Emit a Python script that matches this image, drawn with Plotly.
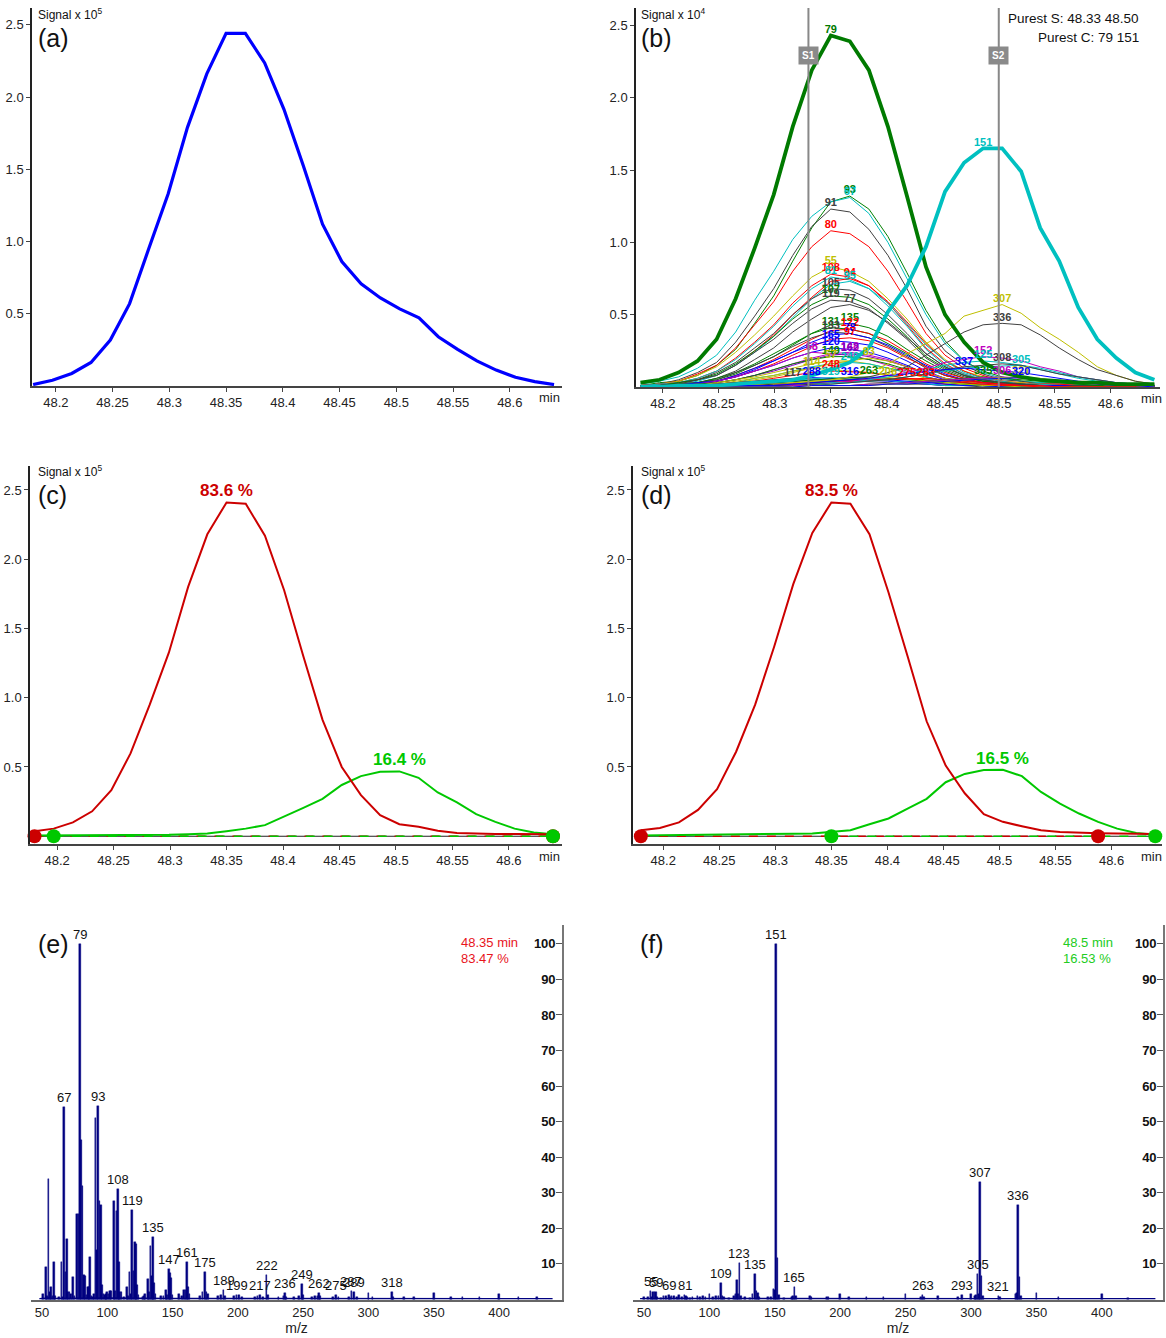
import numpy as np
import plotly.graph_objects as go

W, H = 1166, 1338
FONT = "Liberation Sans, Arial, sans-serif"

# ---------------- data ----------------
T = [48.180, 48.197, 48.214, 48.231, 48.248, 48.265, 48.282, 48.299, 48.316, 48.333,
     48.350, 48.367, 48.384, 48.401, 48.418, 48.435, 48.452, 48.469, 48.486, 48.503,
     48.520, 48.537, 48.554, 48.571, 48.588, 48.605, 48.622, 48.639]

tic = [0.01, 0.04, 0.087, 0.163, 0.318, 0.57, 0.953, 1.33, 1.79, 2.16,
       2.44, 2.44, 2.236, 1.915, 1.526, 1.12, 0.861, 0.708, 0.609, 0.534,
       0.472, 0.341, 0.254, 0.174, 0.11, 0.06, 0.03, 0.01]

# panel (b): extracted ion chromatograms (x 10^4)
ion_79 = [0.03, 0.05, 0.10, 0.18, 0.33, 0.61, 0.96, 1.33, 1.80, 2.19,
          2.43, 2.39, 2.19, 1.80, 1.32, 0.83, 0.50, 0.31, 0.17, 0.10,
          0.07, 0.05, 0.04, 0.03, 0.03, 0.02, 0.02, 0.02]
ion_151 = [0.00, 0.00, 0.01, 0.01, 0.01, 0.02, 0.03, 0.04, 0.05, 0.08,
           0.12, 0.17, 0.27, 0.52, 0.70, 0.97, 1.35, 1.55, 1.65, 1.65,
           1.49, 1.10, 0.87, 0.55, 0.33, 0.20, 0.10, 0.05]
ion_93 = [0.01, 0.03, 0.04, 0.08, 0.15, 0.26, 0.44, 0.63, 0.87, 1.10,
          1.28, 1.32, 1.23, 1.04, 0.79, 0.53, 0.32, 0.18, 0.11, 0.07,
          0.04, 0.03, 0.03, 0.02, 0.01, 0.01, 0.01, 0.01]
ion_67 = [0.02, 0.04, 0.07, 0.13, 0.22, 0.38, 0.60, 0.80, 1.02, 1.18,
          1.28, 1.31, 1.20, 1.00, 0.75, 0.50, 0.30, 0.18, 0.10, 0.06,
          0.04, 0.03, 0.02, 0.02, 0.01, 0.01, 0.01, 0.01]
ion_91 = [0.01, 0.02, 0.05, 0.10, 0.17, 0.31, 0.49, 0.68, 0.91, 1.11,
          1.23, 1.21, 1.09, 0.91, 0.68, 0.42, 0.25, 0.15, 0.09, 0.05,
          0.04, 0.02, 0.02, 0.01, 0.01, 0.01, 0.01, 0.01]
ion_80 = [0.01, 0.02, 0.04, 0.09, 0.15, 0.27, 0.43, 0.59, 0.80, 0.97,
          1.08, 1.06, 0.97, 0.80, 0.59, 0.37, 0.22, 0.13, 0.08, 0.04,
          0.03, 0.02, 0.02, 0.01, 0.01, 0.01, 0.01, 0.01]
ion_55 = [0.01, 0.02, 0.04, 0.08, 0.14, 0.24, 0.36, 0.49, 0.63, 0.76,
          0.83, 0.80, 0.73, 0.61, 0.47, 0.31, 0.19, 0.11, 0.07, 0.04,
          0.03, 0.02, 0.02, 0.01, 0.01, 0.01, 0.01, 0.01]
ion_108 = [0.01, 0.02, 0.03, 0.06, 0.11, 0.20, 0.31, 0.43, 0.58, 0.70,
           0.78, 0.76, 0.70, 0.58, 0.43, 0.27, 0.16, 0.09, 0.05, 0.03,
           0.02, 0.02, 0.02, 0.01, 0.01, 0.01, 0.01, 0.01]
ion_81 = [0.01, 0.02, 0.03, 0.06, 0.11, 0.19, 0.30, 0.42, 0.56, 0.68,
          0.76, 0.74, 0.68, 0.56, 0.42, 0.26, 0.15, 0.09, 0.05, 0.03,
          0.02, 0.02, 0.02, 0.01, 0.01, 0.01, 0.01, 0.01]
ion_94 = [0.01, 0.02, 0.02, 0.05, 0.08, 0.15, 0.25, 0.36, 0.50, 0.62,
          0.73, 0.75, 0.70, 0.59, 0.45, 0.30, 0.18, 0.11, 0.06, 0.04,
          0.02, 0.02, 0.02, 0.01, 0.01, 0.01, 0.01, 0.01]
ion_95 = [0.01, 0.02, 0.02, 0.04, 0.08, 0.15, 0.24, 0.35, 0.48, 0.61,
          0.71, 0.73, 0.68, 0.58, 0.44, 0.29, 0.18, 0.10, 0.06, 0.04,
          0.02, 0.02, 0.01, 0.01, 0.01, 0.01, 0.01, 0.01]
ion_105 = [0.01, 0.01, 0.03, 0.05, 0.10, 0.17, 0.27, 0.37, 0.50, 0.61,
           0.68, 0.67, 0.61, 0.50, 0.37, 0.23, 0.14, 0.08, 0.05, 0.03,
           0.02, 0.01, 0.01, 0.01, 0.01, 0.01, 0.01, 0.01]
ion_107 = [0.01, 0.01, 0.03, 0.05, 0.09, 0.16, 0.25, 0.35, 0.47, 0.57,
           0.63, 0.62, 0.57, 0.47, 0.35, 0.21, 0.13, 0.08, 0.04, 0.03,
           0.02, 0.01, 0.01, 0.01, 0.01, 0.01, 0.01, 0.01]
ion_119 = [0.01, 0.01, 0.02, 0.05, 0.08, 0.15, 0.24, 0.33, 0.44, 0.54,
           0.60, 0.59, 0.54, 0.44, 0.33, 0.20, 0.12, 0.07, 0.04, 0.02,
           0.02, 0.01, 0.01, 0.01, 0.01, 0.01, 0.01, 0.01]
ion_77 = [0.01, 0.01, 0.02, 0.03, 0.06, 0.11, 0.19, 0.27, 0.38, 0.47,
          0.55, 0.57, 0.53, 0.45, 0.34, 0.23, 0.14, 0.08, 0.05, 0.03,
          0.02, 0.01, 0.01, 0.01, 0.01, 0.01, 0.01, 0.01]
ion_135 = [0.00, 0.01, 0.01, 0.03, 0.05, 0.09, 0.15, 0.21, 0.29, 0.37,
           0.43, 0.44, 0.41, 0.35, 0.26, 0.18, 0.11, 0.06, 0.04, 0.02,
           0.01, 0.01, 0.01, 0.00, 0.00, 0.00, 0.00, 0.00]
ion_131 = [0.00, 0.01, 0.02, 0.03, 0.06, 0.10, 0.16, 0.23, 0.30, 0.37,
           0.41, 0.40, 0.37, 0.30, 0.23, 0.14, 0.08, 0.05, 0.03, 0.02,
           0.01, 0.01, 0.01, 0.00, 0.00, 0.00, 0.00, 0.00]
ion_122 = [0.00, 0.01, 0.01, 0.02, 0.04, 0.08, 0.13, 0.19, 0.26, 0.33,
           0.39, 0.40, 0.37, 0.32, 0.24, 0.16, 0.10, 0.06, 0.03, 0.02,
           0.01, 0.01, 0.01, 0.00, 0.00, 0.00, 0.00, 0.00]
ion_133 = [0.00, 0.01, 0.02, 0.03, 0.05, 0.10, 0.15, 0.21, 0.28, 0.34,
           0.38, 0.37, 0.34, 0.28, 0.21, 0.13, 0.08, 0.05, 0.03, 0.02,
           0.01, 0.01, 0.01, 0.00, 0.00, 0.00, 0.00, 0.00]
ion_78 = [0.00, 0.01, 0.01, 0.02, 0.04, 0.07, 0.12, 0.18, 0.24, 0.31,
          0.36, 0.37, 0.34, 0.29, 0.22, 0.15, 0.09, 0.05, 0.03, 0.02,
          0.01, 0.01, 0.01, 0.00, 0.00, 0.00, 0.00, 0.00]
ion_97 = [0.00, 0.01, 0.01, 0.02, 0.04, 0.07, 0.11, 0.16, 0.22, 0.28,
          0.33, 0.34, 0.32, 0.27, 0.20, 0.14, 0.08, 0.05, 0.03, 0.02,
          0.01, 0.01, 0.01, 0.00, 0.00, 0.00, 0.00, 0.00]
ion_165 = [0.00, 0.01, 0.01, 0.03, 0.04, 0.08, 0.13, 0.18, 0.24, 0.29,
           0.32, 0.31, 0.29, 0.24, 0.18, 0.11, 0.06, 0.04, 0.02, 0.01,
           0.01, 0.01, 0.01, 0.00, 0.00, 0.00, 0.00, 0.00]
ion_120 = [0.00, 0.01, 0.01, 0.02, 0.04, 0.07, 0.11, 0.15, 0.20, 0.24,
           0.27, 0.26, 0.24, 0.20, 0.15, 0.09, 0.05, 0.03, 0.02, 0.01,
           0.01, 0.01, 0.01, 0.00, 0.00, 0.00, 0.00, 0.00]
ion_68 = [0.00, 0.01, 0.01, 0.02, 0.04, 0.07, 0.11, 0.15, 0.20, 0.24,
          0.23, 0.22, 0.19, 0.15, 0.11, 0.07, 0.04, 0.03, 0.02, 0.01,
          0.01, 0.01, 0.00, 0.00, 0.00, 0.00, 0.00, 0.00]
ion_148 = [0.00, 0.00, 0.01, 0.01, 0.03, 0.05, 0.08, 0.12, 0.16, 0.20,
           0.23, 0.24, 0.22, 0.19, 0.14, 0.10, 0.06, 0.03, 0.02, 0.01,
           0.01, 0.00, 0.00, 0.00, 0.00, 0.00, 0.00, 0.00]
ion_162 = [0.00, 0.00, 0.01, 0.01, 0.03, 0.05, 0.08, 0.11, 0.15, 0.19,
           0.22, 0.23, 0.21, 0.18, 0.14, 0.09, 0.06, 0.03, 0.02, 0.01,
           0.01, 0.00, 0.00, 0.00, 0.00, 0.00, 0.00, 0.00]
ion_149 = [0.00, 0.00, 0.01, 0.02, 0.03, 0.05, 0.08, 0.12, 0.16, 0.19,
           0.21, 0.21, 0.19, 0.16, 0.12, 0.07, 0.04, 0.03, 0.01, 0.01,
           0.01, 0.00, 0.00, 0.00, 0.00, 0.00, 0.00, 0.00]
ion_57 = [0.00, 0.00, 0.01, 0.01, 0.03, 0.05, 0.07, 0.10, 0.13, 0.16,
          0.18, 0.18, 0.16, 0.13, 0.10, 0.06, 0.04, 0.02, 0.01, 0.01,
          0.01, 0.00, 0.00, 0.00, 0.00, 0.00, 0.00, 0.00]
ion_249 = [0.00, 0.00, 0.01, 0.01, 0.02, 0.03, 0.06, 0.08, 0.11, 0.14,
           0.16, 0.17, 0.16, 0.13, 0.10, 0.07, 0.04, 0.02, 0.01, 0.01,
           0.01, 0.00, 0.00, 0.00, 0.00, 0.00, 0.00, 0.00]
ion_83 = [0.00, 0.00, 0.01, 0.01, 0.02, 0.03, 0.05, 0.07, 0.10, 0.13,
          0.16, 0.18, 0.20, 0.18, 0.14, 0.10, 0.06, 0.04, 0.02, 0.01,
          0.01, 0.00, 0.00, 0.00, 0.00, 0.00, 0.00, 0.00]
ion_114 = [0.00, 0.00, 0.01, 0.01, 0.02, 0.04, 0.06, 0.08, 0.11, 0.13,
           0.12, 0.11, 0.10, 0.08, 0.06, 0.04, 0.02, 0.01, 0.01, 0.00,
           0.00, 0.00, 0.00, 0.00, 0.00, 0.00, 0.00, 0.00]
ion_248 = [0.00, 0.00, 0.00, 0.01, 0.02, 0.03, 0.04, 0.06, 0.08, 0.10,
           0.11, 0.105, 0.10, 0.08, 0.06, 0.04, 0.02, 0.01, 0.01, 0.00,
           0.00, 0.00, 0.00, 0.00, 0.00, 0.00, 0.00, 0.00]
ion_117 = [0.00, 0.00, 0.01, 0.01, 0.02, 0.03, 0.04, 0.05, 0.06, 0.055,
           0.05, 0.045, 0.04, 0.03, 0.02, 0.02, 0.01, 0.01, 0.00, 0.00,
           0.00, 0.00, 0.00, 0.00, 0.00, 0.00, 0.00, 0.00]
ion_288 = [0.00, 0.00, 0.00, 0.01, 0.01, 0.02, 0.03, 0.04, 0.05, 0.065,
           0.06, 0.055, 0.05, 0.04, 0.03, 0.02, 0.01, 0.01, 0.01, 0.00,
           0.00, 0.00, 0.00, 0.00, 0.00, 0.00, 0.00, 0.00]
ion_319 = [0.00, 0.00, 0.00, 0.01, 0.01, 0.02, 0.03, 0.04, 0.05, 0.06,
           0.065, 0.06, 0.055, 0.045, 0.035, 0.02, 0.01, 0.01, 0.01, 0.00,
           0.00, 0.00, 0.00, 0.00, 0.00, 0.00, 0.00, 0.00]
ion_316 = [0.00, 0.00, 0.00, 0.00, 0.01, 0.01, 0.02, 0.03, 0.04, 0.05,
           0.06, 0.065, 0.06, 0.05, 0.04, 0.03, 0.02, 0.01, 0.01, 0.00,
           0.00, 0.00, 0.00, 0.00, 0.00, 0.00, 0.00, 0.00]
ion_263 = [0.00, 0.00, 0.00, 0.00, 0.01, 0.01, 0.02, 0.03, 0.04, 0.05,
           0.06, 0.065, 0.07, 0.06, 0.05, 0.04, 0.03, 0.02, 0.01, 0.01,
           0.00, 0.00, 0.00, 0.00, 0.00, 0.00, 0.00, 0.00]
ion_206 = [0.00, 0.00, 0.00, 0.00, 0.00, 0.01, 0.01, 0.02, 0.03, 0.04,
           0.05, 0.055, 0.06, 0.065, 0.055, 0.045, 0.03, 0.02, 0.01, 0.01,
           0.00, 0.00, 0.00, 0.00, 0.00, 0.00, 0.00, 0.00]
ion_275 = [0.00, 0.00, 0.00, 0.00, 0.00, 0.01, 0.01, 0.01, 0.02, 0.03,
           0.04, 0.045, 0.05, 0.055, 0.06, 0.05, 0.04, 0.03, 0.02, 0.01,
           0.01, 0.00, 0.00, 0.00, 0.00, 0.00, 0.00, 0.00]
ion_283 = [0.00, 0.00, 0.00, 0.00, 0.00, 0.00, 0.01, 0.01, 0.02, 0.02,
           0.03, 0.04, 0.045, 0.05, 0.055, 0.06, 0.05, 0.04, 0.03, 0.02,
           0.01, 0.01, 0.00, 0.00, 0.00, 0.00, 0.00, 0.00]
ion_307 = [0.00, 0.00, 0.00, 0.01, 0.01, 0.01, 0.02, 0.02, 0.03, 0.04,
           0.05, 0.07, 0.10, 0.16, 0.23, 0.30, 0.37, 0.49, 0.53, 0.57,
           0.51, 0.41, 0.33, 0.24, 0.14, 0.08, 0.04, 0.02]
ion_336 = [0.00, 0.00, 0.00, 0.00, 0.01, 0.01, 0.01, 0.02, 0.02, 0.03,
           0.04, 0.05, 0.07, 0.10, 0.14, 0.22, 0.30, 0.38, 0.43, 0.44,
           0.43, 0.36, 0.27, 0.19, 0.12, 0.08, 0.04, 0.02]
ion_152 = [0.00, 0.00, 0.00, 0.00, 0.00, 0.01, 0.01, 0.01, 0.02, 0.02,
           0.03, 0.04, 0.05, 0.08, 0.10, 0.13, 0.17, 0.19, 0.21, 0.20,
           0.18, 0.14, 0.11, 0.07, 0.05, 0.03, 0.02, 0.01]
ion_125 = [0.00, 0.00, 0.00, 0.00, 0.00, 0.00, 0.01, 0.01, 0.01, 0.02,
           0.03, 0.03, 0.05, 0.07, 0.09, 0.12, 0.15, 0.17, 0.18, 0.17,
           0.15, 0.12, 0.09, 0.06, 0.04, 0.03, 0.02, 0.01]
ion_305 = [0.00, 0.00, 0.00, 0.00, 0.00, 0.00, 0.00, 0.01, 0.01, 0.01,
           0.02, 0.03, 0.04, 0.05, 0.07, 0.09, 0.11, 0.13, 0.14, 0.145,
           0.15, 0.13, 0.10, 0.07, 0.05, 0.03, 0.02, 0.01]
ion_308 = [0.00, 0.00, 0.00, 0.00, 0.00, 0.00, 0.01, 0.01, 0.01, 0.02,
           0.02, 0.03, 0.04, 0.05, 0.07, 0.09, 0.12, 0.14, 0.15, 0.16,
           0.15, 0.12, 0.09, 0.07, 0.05, 0.03, 0.02, 0.01]
ion_337 = [0.00, 0.00, 0.00, 0.00, 0.00, 0.01, 0.01, 0.01, 0.02, 0.03,
           0.04, 0.05, 0.06, 0.08, 0.09, 0.11, 0.12, 0.13, 0.12, 0.11,
           0.10, 0.08, 0.06, 0.04, 0.03, 0.02, 0.01, 0.01]
ion_335 = [0.00, 0.00, 0.00, 0.00, 0.00, 0.00, 0.00, 0.00, 0.01, 0.01,
           0.01, 0.01, 0.02, 0.02, 0.03, 0.04, 0.05, 0.06, 0.07, 0.06,
           0.05, 0.04, 0.03, 0.02, 0.01, 0.01, 0.01, 0.00]
ion_306 = [0.00, 0.00, 0.00, 0.00, 0.00, 0.00, 0.00, 0.00, 0.01, 0.01,
           0.01, 0.01, 0.02, 0.02, 0.03, 0.04, 0.05, 0.06, 0.065, 0.07,
           0.06, 0.05, 0.04, 0.03, 0.02, 0.01, 0.01, 0.00]
ion_321 = [0.00, 0.00, 0.00, 0.00, 0.00, 0.00, 0.00, 0.00, 0.00, 0.01,
           0.01, 0.01, 0.01, 0.02, 0.02, 0.03, 0.04, 0.05, 0.06, 0.065,
           0.07, 0.06, 0.04, 0.03, 0.02, 0.01, 0.01, 0.00]
ion_320 = [0.00, 0.00, 0.00, 0.00, 0.00, 0.00, 0.00, 0.00, 0.00, 0.01,
           0.01, 0.01, 0.01, 0.02, 0.02, 0.03, 0.04, 0.05, 0.055, 0.06,
           0.065, 0.05, 0.04, 0.03, 0.02, 0.01, 0.01, 0.00]

# panels (c) and (d): deconvoluted components (x 10^5)
red_c = [0.036, 0.055, 0.10, 0.18, 0.333, 0.598, 0.95, 1.327, 1.80, 2.18,
         2.41, 2.40, 2.17, 1.776, 1.30, 0.84, 0.50, 0.297, 0.152, 0.087,
         0.068, 0.039, 0.024, 0.019, 0.017, 0.016, 0.015, 0.015]
green_c = [0.005, 0.005, 0.005, 0.005, 0.005, 0.006, 0.008, 0.010, 0.015, 0.020,
           0.036, 0.055, 0.080, 0.14, 0.205, 0.27, 0.37, 0.434, 0.466, 0.468,
           0.422, 0.316, 0.244, 0.159, 0.104, 0.055, 0.027, 0.015]
red_d = [0.043, 0.06, 0.10, 0.19, 0.34, 0.61, 0.95, 1.37, 1.82, 2.19,
         2.41, 2.40, 2.18, 1.76, 1.30, 0.83, 0.51, 0.31, 0.16, 0.104,
         0.072, 0.043, 0.031, 0.025, 0.022, 0.020, 0.018, 0.017]
green_d = [0.005, 0.006, 0.007, 0.008, 0.010, 0.012, 0.014, 0.016, 0.018, 0.020,
           0.030, 0.043, 0.087, 0.128, 0.20, 0.27, 0.39, 0.45, 0.478, 0.48,
           0.434, 0.32, 0.236, 0.164, 0.104, 0.055, 0.024, 0.010]
c_red_bounds = [0, 27]
c_green_bounds = [1, 27]
d_red_bounds = [0, 24]
d_green_bounds = [10, 27]
pct_c = ["83.6 %", "16.4 %"]
pct_d = ["83.5 %", "16.5 %"]

purest_s = [48.33, 48.50]
purest_c = [79, 151]

# panels (e) and (f): mass spectra (relative intensity, %)
e_mz = [51, 53, 54, 55, 56, 57, 58, 59, 60, 63, 65, 66, 67, 68, 69, 70, 71, 72, 74, 75,
        77, 78, 79, 80, 81, 82, 83, 84, 85, 86, 87, 88, 89, 90, 91, 92, 93, 94, 95, 96,
        97, 98, 99, 100, 101, 102, 103, 105, 106, 107, 108, 109, 110, 111, 113, 115, 116, 117, 118, 119,
        120, 121, 122, 123, 124, 127, 128, 129, 131, 132, 133, 134, 135, 136, 137, 141, 143, 145, 146, 147,
        148, 149, 150, 155, 157, 159, 160, 161, 162, 163, 171, 173, 175, 176, 177, 185, 187, 189, 190, 197,
        199, 201, 203, 213, 215, 217, 219, 222, 223, 231, 235, 236, 237, 243, 247, 249, 250, 257, 259, 261,
        262, 263, 273, 275, 277, 285, 287, 289, 291, 300, 303, 318, 319, 327, 335, 350, 363, 372, 385, 400,
        415, 429]
e_int = [1.5, 9, 1, 34, 2, 3.5, 1, 10.5, 1, 0.8, 10.5, 0.8, 54, 7.6, 16.9, 2.2, 2, 1.5, 6.4, 1,
         24, 24, 100, 44.8, 31.9, 7, 6.5, 1.2, 3.5, 3.5, 12, 1, 0.8, 1.5, 50.9, 13.9, 54.5, 27.6, 26.5, 4.2,
         1.5, 1.2, 1.6, 2, 1.6, 2.3, 2.4, 27.7, 2.5, 24.9, 31.2, 10.5, 2.2, 2, 0.8, 3.6, 1, 7.7, 1.5, 25.1,
         8, 16.1, 15.7, 4.2, 1.2, 0.8, 1, 1.5, 5.7, 2, 15.1, 6.5, 17.6, 4.7, 1.5, 1, 1, 2.6, 1.2, 8.5,
         7.5, 6.1, 1.2, 1.5, 1, 2.6, 2.7, 10.5, 3.5, 1.5, 1, 2, 7.8, 2, 1.5, 1, 1.2, 2.8, 1, 1,
         1.3, 1.3, 0.8, 0.8, 1, 1.2, 0.8, 6.8, 1.2, 0.8, 1, 1.7, 0.8, 0.8, 1, 4.5, 1.2, 0.8, 1, 1,
         1.8, 1, 0.8, 1.2, 0.8, 0.8, 2.3, 2.1, 0.8, 1.7, 0.8, 2.1, 0.8, 0.7, 0.7, 1.7, 0.7, 0.7, 0.7, 1.6,
         0.7, 0.7]
e_labels = [67, 79, 93, 108, 119, 135, 147, 161, 175, 189, 199, 217, 222, 236, 249, 262, 275, 287, 289, 318]
e_floor_mz = [48, 55, 60, 100, 150, 200, 250, 300, 330, 360, 400, 441]
e_floor = [0.4, 0.6, 0.5, 0.6, 0.5, 0.45, 0.45, 0.4, 0.45, 0.4, 0.45, 0.4]

f_mz = [50, 53, 55, 56, 57, 58, 59, 60, 63, 65, 67, 69, 70, 71, 73, 75, 77, 79, 81, 82,
        83, 85, 87, 91, 93, 95, 97, 100, 103, 105, 107, 109, 110, 111, 115, 119, 120, 121, 122, 123,
        124, 127, 131, 133, 135, 136, 137, 138, 145, 147, 149, 150, 151, 152, 153, 157, 163, 164, 165, 166,
        177, 178, 190, 191, 200, 207, 220, 233, 250, 262, 263, 264, 275, 290, 293, 300, 303, 304, 305, 306,
        307, 308, 309, 321, 322, 334, 335, 336, 337, 338, 350, 367, 400, 420]
f_int = [0.6, 0.8, 2.5, 0.8, 2, 2.1, 2, 0.6, 0.5, 0.9, 1, 1.2, 0.6, 0.9, 1, 0.8, 1.2, 0.8, 1.2, 0.9,
         0.6, 0.5, 0.6, 0.9, 0.8, 1, 0.6, 1.6, 0.6, 0.9, 1, 4.6, 1, 0.8, 0.5, 1, 1.6, 5.5, 1.6, 10.3,
         1, 0.6, 0.5, 1.5, 7.2, 2.5, 1.8, 0.8, 0.6, 0.8, 3, 2.6, 100, 11.6, 1.2, 0.5, 0.8, 1.1, 3.5, 1.1,
         1.1, 0.8, 0.8, 0.6, 1.6, 0.6, 0.7, 0.8, 1.6, 0.7, 1.4, 0.6, 1, 0.7, 1.3, 1.6, 1, 1.2, 7.3, 1.5,
         33, 6.5, 1, 1, 0.7, 1.5, 1.8, 26.6, 6.3, 1, 1.8, 0.6, 1.5, 0.5]
f_labels = [55, 59, 69, 81, 109, 123, 135, 151, 165, 263, 293, 305, 307, 321, 336]
f_floor_mz = [47, 60, 100, 150, 200, 250, 300, 350, 400, 441]
f_floor = [0.4, 0.5, 0.5, 0.5, 0.45, 0.45, 0.4, 0.45, 0.4, 0.4]

# ---------------- styling helpers ----------------
G, C, R, B, M, Y, K = "#008000", "#00bfbf", "#ff0000", "#0000ff", "#bf00bf", "#bfbf00", "#404040"
thin = [
    (93, ion_93, G), (67, ion_67, C), (91, ion_91, K), (80, ion_80, R), (55, ion_55, Y),
    (108, ion_108, R), (81, ion_81, C), (94, ion_94, R), (95, ion_95, C), (105, ion_105, K),
    (107, ion_107, G), (119, ion_119, K), (77, ion_77, K), (135, ion_135, G), (131, ion_131, G),
    (122, ion_122, R), (133, ion_133, K), (78, ion_78, B), (97, ion_97, R), (165, ion_165, B),
    (120, ion_120, B), (68, ion_68, M), (148, ion_148, M), (162, ion_162, "#8000bf"), (149, ion_149, G),
    (57, ion_57, Y), (249, ion_249, C), (83, ion_83, Y), (114, ion_114, Y), (248, ion_248, R),
    (117, ion_117, K), (288, ion_288, B), (319, ion_319, C), (316, ion_316, B), (263, ion_263, G),
    (206, ion_206, Y), (275, ion_275, R), (283, ion_283, R),
    (307, ion_307, Y), (336, ion_336, K), (152, ion_152, M), (125, ion_125, C), (305, ion_305, C),
    (308, ion_308, K), (337, ion_337, B), (335, ion_335, G), (306, ion_306, M), (321, ion_321, Y),
    (320, ion_320, B),
]
thick = [(79, ion_79, "#007a00"), (151, ion_151, "#00c0c0")]

RED2, GRN2 = "#cc0000", "#00c800"


def P(x, y):
    return x / W, 1 - y / H


fig = go.Figure()

# (a) TIC
fig.add_trace(go.Scatter(x=T, y=tic, mode="lines", line=dict(color="#0000ff", width=3.2),
                         xaxis="x", yaxis="y", hoverinfo="skip"))

# (b) ion chromatograms
for lab, vals, col in thin:
    fig.add_trace(go.Scatter(x=T, y=vals, mode="lines", line=dict(color=col, width=1),
                             xaxis="x2", yaxis="y2", hoverinfo="skip"))
for lab, vals, col in thick:
    fig.add_trace(go.Scatter(x=T, y=vals, mode="lines", line=dict(color=col, width=3.8),
                             xaxis="x2", yaxis="y2", hoverinfo="skip"))
for lab, vals, col in thin + thick:
    i = int(np.argmax(vals))
    fig.add_trace(go.Scatter(x=[T[i]], y=[vals[i]], mode="text", text=[f"<b>{lab}</b>"],
                             textposition="top center", cliponaxis=False,
                             textfont=dict(family=FONT, size=11, color=col),
                             xaxis="x2", yaxis="y2", hoverinfo="skip"))


def deconv(xa, ya, red, green, rb, gb, pct):
    fig.add_trace(go.Scatter(x=[T[0], T[-1]], y=[0, 0], mode="lines",
                             line=dict(color="#222222", width=1.2), xaxis=xa, yaxis=ya, hoverinfo="skip"))
    fig.add_trace(go.Scatter(x=[T[rb[0]], T[rb[1]]], y=[0, 0], mode="lines",
                             line=dict(color=RED2, width=1.3, dash="dash"), xaxis=xa, yaxis=ya, hoverinfo="skip"))
    fig.add_trace(go.Scatter(x=[T[gb[0]], T[gb[1]]], y=[0, 0], mode="lines",
                             line=dict(color=GRN2, width=1.3, dash="dash"), xaxis=xa, yaxis=ya, hoverinfo="skip"))
    fig.add_trace(go.Scatter(x=T, y=green, mode="lines", line=dict(color=GRN2, width=2),
                             xaxis=xa, yaxis=ya, hoverinfo="skip"))
    fig.add_trace(go.Scatter(x=T, y=red, mode="lines", line=dict(color=RED2, width=2),
                             xaxis=xa, yaxis=ya, hoverinfo="skip"))
    fig.add_trace(go.Scatter(x=[T[rb[0]], T[rb[1]]], y=[0, 0], mode="markers", cliponaxis=False,
                             marker=dict(color=RED2, size=14), xaxis=xa, yaxis=ya, hoverinfo="skip"))
    fig.add_trace(go.Scatter(x=[T[gb[0]], T[gb[1]]], y=[0, 0], mode="markers", cliponaxis=False,
                             marker=dict(color=GRN2, size=14), xaxis=xa, yaxis=ya, hoverinfo="skip"))
    for vals, col, txt in ((red, RED2, pct[0]), (green, GRN2, pct[1])):
        i = int(np.argmax(vals))
        fig.add_annotation(x=T[i], y=vals[i], xref=xa, yref=ya, text=f"<b>{txt}</b>", showarrow=False,
                           yanchor="bottom", yshift=0, font=dict(family=FONT, size=17, color=col))


deconv("x3", "y3", red_c, green_c, c_red_bounds, c_green_bounds, pct_c)
deconv("x4", "y4", red_d, green_d, d_red_bounds, d_green_bounds, pct_d)


def spectrum(xa, ya, mz, inten, labels, fmz, fl):
    fig.add_trace(go.Scatter(x=fmz, y=fl, mode="lines", fill="tozeroy", line=dict(width=0, color="#000080"),
                             fillcolor="#000080", xaxis=xa, yaxis=ya, hoverinfo="skip"))
    fig.add_trace(go.Bar(x=mz, y=inten, width=1.3, marker=dict(color="#000080", line=dict(width=0.4, color="#000080")),
                         xaxis=xa, yaxis=ya, hoverinfo="skip"))
    lookup = dict(zip(mz, inten))
    for m in labels:
        fig.add_annotation(x=m, y=lookup[m], xref=xa, yref=ya, text=str(m), showarrow=False,
                           yanchor="bottom", yshift=0, font=dict(family=FONT, size=13, color="#111"))


spectrum("x5", "y5", e_mz, e_int, e_labels, e_floor_mz, e_floor)
spectrum("x6", "y6", f_mz, f_int, f_labels, f_floor_mz, f_floor)

# ---------------- axes ----------------
xt = [48.2, 48.25, 48.3, 48.35, 48.4, 48.45, 48.5, 48.55, 48.6]
xtt = ["48.2", "48.25", "48.3", "48.35", "48.4", "48.45", "48.5", "48.55", "48.6"]
yt = [0.5, 1.0, 1.5, 2.0, 2.5]
ytt = ["0.5", "1.0", "1.5", "2.0", "2.5"]
tf = dict(family=FONT, size=13, color="#222")


def cx(px0, px1, rng, anchor):
    return dict(domain=[px0 / W, px1 / W], range=rng, anchor=anchor, tickvals=xt, ticktext=xtt,
                ticks="outside", ticklen=4, tickcolor="#444", showline=True, linecolor="#444",
                linewidth=1.5, showgrid=False, zeroline=False, tickfont=tf, fixedrange=True)


def cy(py0, py1, rng, anchor):
    return dict(domain=[1 - py1 / H, 1 - py0 / H], range=rng, anchor=anchor, tickvals=yt, ticktext=ytt,
                ticks="outside", ticklen=4, tickcolor="#444", showline=True, linecolor="#222",
                linewidth=1.5, showgrid=False, zeroline=False, tickfont=tf, fixedrange=True)


def sx(px0, px1, rng, anchor):
    return dict(domain=[px0 / W, px1 / W], range=rng, anchor=anchor,
                tickvals=[50, 100, 150, 200, 250, 300, 350, 400], ticks="", showline=True,
                linecolor="#666", linewidth=1.5, showgrid=False, zeroline=False,
                tickfont=dict(family=FONT, size=13, color="#222"),
                title=dict(text="m/z", font=dict(family=FONT, size=14, color="#222"), standoff=2))


def sy(py0, py1, anchor):
    return dict(domain=[1 - py1 / H, 1 - py0 / H], range=[0, 105.3], anchor=anchor, side="right",
                tickvals=[10, 20, 30, 40, 50, 60, 70, 80, 90, 100], ticks="inside", ticklen=6,
                tickcolor="#555", ticklabelposition="inside", showline=True, linecolor="#777",
                linewidth=2, showgrid=False, zeroline=False,
                tickfont=dict(family=FONT, size=13, color="#111", weight="bold"))


fig.update_layout(
    width=W, height=H, margin=dict(l=0, r=0, t=0, b=0),
    paper_bgcolor="white", plot_bgcolor="white", showlegend=False,
    font=dict(family=FONT),
    xaxis=cx(32, 562, [48.179, 48.646], "y"),
    yaxis=cy(8, 386, [0, 2.616], "x"),
    xaxis2=cx(636, 1160, [48.176, 48.644], "y2"),
    yaxis2=cy(8, 387, [0, 2.62], "x2"),
    xaxis3=cx(30, 562, [48.176, 48.647], "y3"),
    yaxis3=cy(466, 844, [-0.056, 2.673], "x3"),
    xaxis4=cx(633, 1162, [48.173, 48.645], "y4"),
    yaxis4=cy(466, 844, [-0.056, 2.673], "x4"),
    xaxis5=sx(31, 562, [41.6, 448.2], "y5"),
    yaxis5=sy(925, 1299.5, "x5"),
    xaxis6=sx(633, 1163, [41.6, 446.8], "y6"),
    yaxis6=sy(925, 1299.5, "x6"),
    bargap=0,
)

# S1 / S2 markers in (b)
for k, s in enumerate(purest_s):
    fig.add_shape(type="line", x0=s, x1=s, y0=0, y1=1, xref="x2", yref="y2 domain",
                  line=dict(color="#888", width=2), layer="above")
    fig.add_annotation(x=s, y=P(0, 55)[1], xref="x2", yref="paper", text=f"<b>S{k + 1}</b>",
                       showarrow=False, bgcolor="#8a8a8a", borderpad=3, yanchor="middle",
                       font=dict(family=FONT, size=10, color="white"))

fig.add_annotation(x=P(1141, 0)[0], y=P(0, 19)[1], xref="paper", yref="paper", xanchor="right",
                   yanchor="middle",
                   text="Purest S: " + " ".join(f"{v:.2f}" for v in purest_s), showarrow=False,
                   font=dict(family=FONT, size=13.5, color="#111"))
fig.add_annotation(x=P(1141, 0)[0], y=P(0, 37)[1], xref="paper", yref="paper", xanchor="right",
                   yanchor="middle",
                   text="Purest C: " + " ".join(str(v) for v in purest_c), showarrow=False,
                   font=dict(family=FONT, size=13.5, color="#111"))


# panel texts
def txt(x, y, s, size, color="#111", anchor="left"):
    px, py = P(x, y)
    fig.add_annotation(x=px, y=py, xref="paper", yref="paper", text=s, showarrow=False,
                       xanchor=anchor, yanchor="middle", font=dict(family=FONT, size=size, color=color))


for (x0, y0, sup, letter) in [(36, 14, 5, "(a)"), (639, 14, 4, "(b)"), (36, 471, 5, "(c)"), (639, 471, 5, "(d)")]:
    txt(x0, y0, f"Signal x 10<sup>{sup}</sup>", 12)
    txt(x0, y0 + 24, letter, 25)
txt(36, 944, "(e)", 25)
txt(638, 944, "(f)", 25)
for (x0, y0) in [(537, 397), (1139, 398), (537, 856), (1139, 856)]:
    txt(x0, y0, "min", 13, "#222")

txt(459, 942, "48.35 min", 13, "#e8141c")
txt(459, 958, "83.47 %", 13, "#e8141c")
txt(1061, 942, "48.5 min", 13, "#22cc22")
txt(1061, 958, "16.53 %", 13, "#22cc22")

fig.write_html("out.html", config={"displayModeBar": False},
               post_script="document.body.style.margin='0';document.body.style.overflow='hidden';")
